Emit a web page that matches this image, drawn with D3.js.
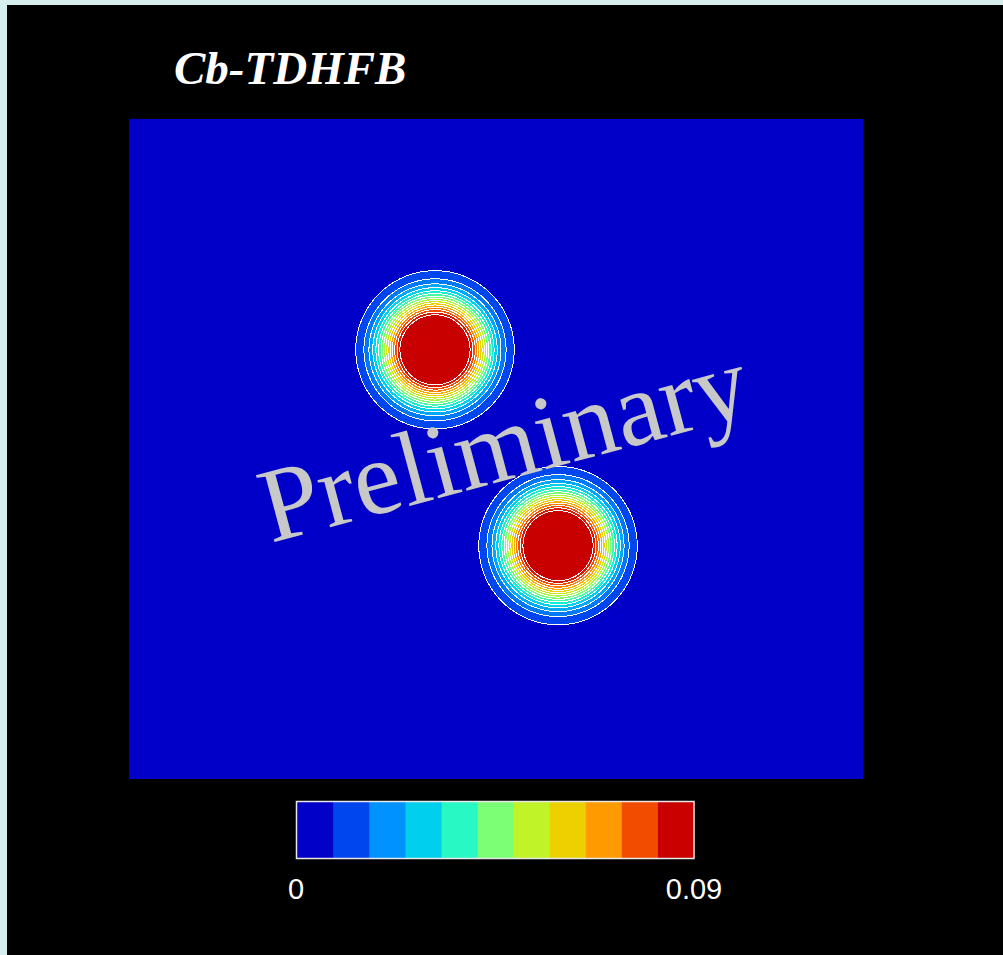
<!DOCTYPE html>
<html>
<head>
<meta charset="utf-8">
<script src="https://cdn.jsdelivr.net/npm/d3@7"></script>
<style>
  html, body { margin: 0; padding: 0; background: #d6eeee; }
  svg { display: block; }
</style>
</head>
<body>
<svg width="1003" height="955"></svg>
<script>
// colour table of the legend, 0 -> 0.09
const bandColors = ['#0000c8', '#0046ee', '#0092ff', '#00d0ec', '#28f8c4', '#7cff74',
  '#c0f428', '#ecd000', '#ff9a00', '#f24c00', '#c80000']
const legendTicks = ['0', '0.09']
const legendMax = 0.09

// the two nuclei (fermi profile, data units)
const nucleusX = [-6.65, 6.76]
const nucleusY = [10.82, -10.54]
const nucleusR = [5.13, 5.13]
const nucleusA = [1.19, 1.19]
const rho0 = 0.12

// contour levels
const levels = [0.006, 0.012, 0.018, 0.024, 0.03, 0.036, 0.042, 0.048, 0.054, 0.06,
  0.066, 0.072, 0.078, 0.084, 0.09]

const xDomain = [-40, 40]
const yDomain = [-36, 36]

const svg = d3.select('svg')
svg.append('rect').attr('x', 7).attr('y', 5).attr('width', 1003).attr('height', 955).attr('fill', '#000')

const plot = { left: 129, top: 119, right: 863, bottom: 779 }
const x = d3.scaleLinear().domain(xDomain).range([plot.left, plot.right])
const y = d3.scaleLinear().domain(yDomain).range([plot.bottom, plot.top])

svg.append('rect')
  .attr('x', plot.left).attr('y', plot.top)
  .attr('width', plot.right - plot.left).attr('height', plot.bottom - plot.top)
  .attr('fill', bandColors[0])

// density on a grid
const nx = 491
const ny = 442
const gx = d3.scaleLinear().domain([0, nx - 1]).range(xDomain)
const gy = d3.scaleLinear().domain([0, ny - 1]).range([yDomain[1], yDomain[0]])
const values = new Float64Array(nx * ny)
for (let j = 0; j < ny; j++) {
  for (let i = 0; i < nx; i++) {
    let v = 0
    for (let k = 0; k < nucleusX.length; k++) {
      const r = Math.hypot(gx(i) - nucleusX[k], gy(j) - nucleusY[k])
      v += rho0 / (1 + Math.exp((r - nucleusR[k]) / nucleusA[k]))
    }
    values[j * nx + i] = v
  }
}

const contours = d3.contours().size([nx, ny]).thresholds(levels)(values)

const proj = d3.geoTransform({
  point: function (px, py) { this.stream.point(x(gx(px - 0.5)), y(gy(py - 0.5))) }
})
const path = d3.geoPath(proj)

const colorAt = v => {
  const t = Math.max(0, Math.min(10, v / legendMax * 10))
  const lo = Math.floor(t)
  const hi = Math.min(10, lo + 1)
  return d3.interpolateRgb(bandColors[lo], bandColors[hi])(t - lo)
}

svg.append('g')
  .attr('shape-rendering', 'crispEdges')
  .selectAll('path')
  .data(contours)
  .join('path')
  .attr('d', path)
  .attr('fill', (d, i) => {
    if (i === levels.length - 1) return bandColors[10]
    return colorAt((levels[i] + levels[i + 1]) / 2)
  })
  .attr('stroke', '#fff')
  .attr('stroke-width', 1)

// watermark
svg.append('text')
  .attr('transform', 'translate(271,543) rotate(-15)')
  .attr('font-family', '\'Liberation Serif\', \'Times New Roman\', serif')
  .attr('font-size', 106)
  .attr('fill', '#c8c8c8')
  .text('Preliminary')

// title
svg.append('text')
  .attr('x', 174).attr('y', 84)
  .attr('font-family', '\'Liberation Serif\', \'Times New Roman\', serif')
  .attr('font-weight', 'bold')
  .attr('font-style', 'italic')
  .attr('font-size', 47)
  .attr('fill', '#fff')
  .text('Cb-TDHFB')

// legend
const lx = d3.scaleLinear().domain([0, bandColors.length]).range([297, 694])
const legend = svg.append('g')
legend.selectAll('rect')
  .data(bandColors)
  .join('rect')
  .attr('x', (d, i) => lx(i))
  .attr('y', 802)
  .attr('width', (d, i) => lx(i + 1) - lx(i) + 0.5)
  .attr('height', 56)
  .attr('fill', d => d)
legend.append('rect')
  .attr('x', 296.5).attr('y', 801.5)
  .attr('width', 397.5).attr('height', 57)
  .attr('fill', 'none')
  .attr('stroke', '#e8e8e8')
  .attr('stroke-width', 1.5)

const tickScale = d3.scaleLinear().domain([0, legendMax]).range([296, 694])
legend.selectAll('text')
  .data(legendTicks)
  .join('text')
  .attr('x', d => tickScale(+d))
  .attr('y', 899)
  .attr('text-anchor', 'middle')
  .attr('font-family', '\'Liberation Sans\', Arial, sans-serif')
  .attr('font-size', 29)
  .attr('fill', '#fff')
  .text(d => d)
</script>
</body>
</html>
